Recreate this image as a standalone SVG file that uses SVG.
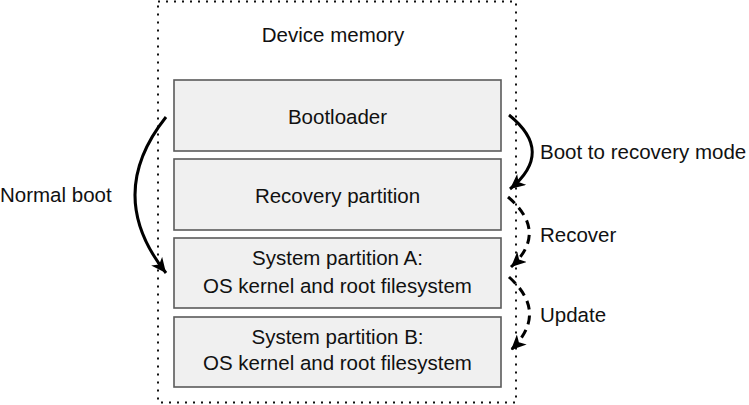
<svg xmlns="http://www.w3.org/2000/svg" width="749" height="405" viewBox="0 0 749 405">
<style>
text{font-family:"Liberation Sans",Arial,sans-serif;font-size:20.5px;fill:#111}
.c{text-anchor:middle}
.box{fill:#f0f0f0;stroke:#5a5a5a;stroke-width:1.6}
.arr{fill:none;stroke:#000;stroke-width:3}
.dash{stroke-dasharray:9 6}
</style>
<defs>
<marker id="ah" markerUnits="userSpaceOnUse" markerWidth="16" markerHeight="14" refX="15" refY="7" orient="auto">
<path d="M0,0 L15,7 L0,14 L4,7 z" fill="#000"/>
</marker>
</defs>
<g id="device-memory">
<rect x="158" y="1.5" width="358" height="401" fill="none" stroke="#111" stroke-width="2" stroke-dasharray="2 6"/>
<text class="c" x="333" y="42">Device memory</text>
</g>
<g id="bootloader">
<rect class="box" x="174" y="80" width="327" height="71"/>
<text class="c" x="337.5" y="124">Bootloader</text>
</g>
<g id="recovery">
<rect class="box" x="174" y="159" width="327" height="71"/>
<text class="c" x="337.5" y="203">Recovery partition</text>
</g>
<g id="system-a">
<rect class="box" x="174" y="238" width="327" height="70"/>
<text class="c" x="337.5" y="265">System partition A:</text>
<text class="c" x="337.5" y="292.5">OS kernel and root filesystem</text>
</g>
<g id="system-b">
<rect class="box" x="174" y="317" width="327" height="70"/>
<text class="c" x="337.5" y="343.5">System partition B:</text>
<text class="c" x="337.5" y="370">OS kernel and root filesystem</text>
</g>
<g id="connectors">
<path class="arr" d="M166,117 Q104,195 166,273" marker-end="url(#ah)"/>
<text x="0" y="202">Normal boot</text>
<path class="arr" d="M509,115 Q555,152 510,189" marker-end="url(#ah)"/>
<text x="540" y="159">Boot to recovery mode</text>
<path class="arr dash" d="M508,197 Q549,232 511,267" marker-end="url(#ah)"/>
<text x="540" y="242">Recover</text>
<path class="arr dash" d="M509,277 Q549,313 511,350" marker-end="url(#ah)"/>
<text x="540" y="322">Update</text>
</g>
</svg>
